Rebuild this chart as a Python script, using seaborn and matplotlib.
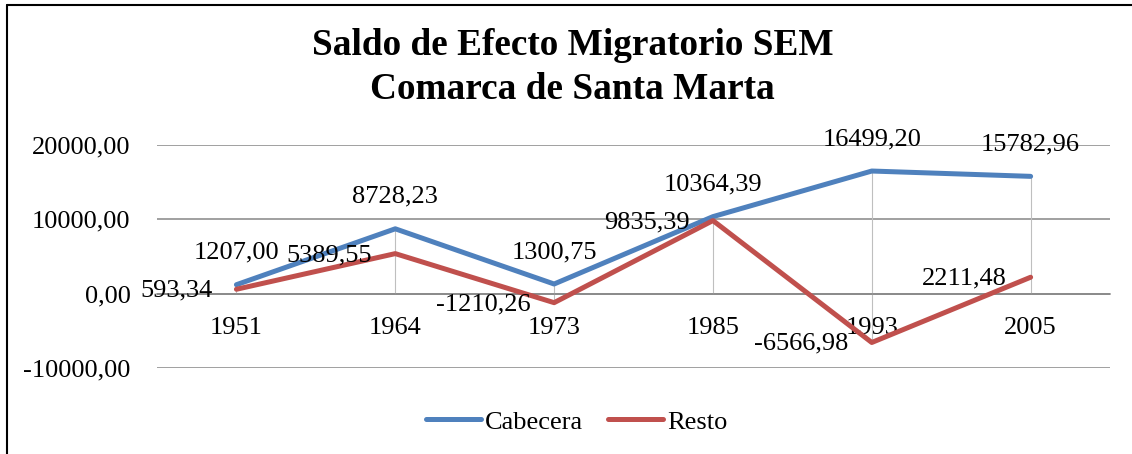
import numpy as np
import pandas as pd
import seaborn as sns
import matplotlib.pyplot as plt
from matplotlib.lines import Line2D
from matplotlib.ticker import FuncFormatter

years = ["1951", "1964", "1973", "1985", "1993", "2005"]
cabecera = [1207.00, 8728.23, 1300.75, 10364.39, 16499.20, 15782.96]
resto = [593.34, 5389.55, -1210.26, 9835.39, -6566.98, 2211.48]
series_names = ["Cabecera", "Resto"]
colors = ["#4F81BD", "#C0504D"]
y_ticks = [-10000, 0, 10000, 20000]


def fmt_es(v):
    return f"{v:.2f}".replace(".", ",")


def main():
    sns.set_theme(style="white")
    plt.rcParams["font.family"] = ["Liberation Serif", "DejaVu Serif"]
    plt.rcParams["text.color"] = "black"
    plt.rcParams["axes.labelcolor"] = "black"
    plt.rcParams["xtick.color"] = "black"
    plt.rcParams["ytick.color"] = "black"

    df = pd.DataFrame({
        "Año": years * 2,
        "Valor": cabecera + resto,
        "Serie": [series_names[0]] * len(years) + [series_names[1]] * len(years),
    })

    fig = plt.figure(figsize=(11.32, 4.54), dpi=100)
    ax = fig.add_axes([0.1387, 0.1894, 0.8419, 0.4912])

    # drop lines from axis to the extreme points of each category
    pos = np.arange(len(years))
    lo = np.minimum(0, np.minimum(cabecera, resto))
    hi = np.maximum(0, np.maximum(cabecera, resto))
    ax.vlines(pos, lo, hi, color="#BFBFBF", linewidth=0.8, zorder=1)

    sns.lineplot(data=df, x="Año", y="Valor", hue="Serie", palette=colors,
                 linewidth=3.6, solid_capstyle="round", ax=ax, legend=False,
                 zorder=3)

    fs = 19
    ax.set_xlim(-0.5, len(years) - 0.5)
    ax.set_ylim(-10000, 20000)
    ax.set_yticks(y_ticks)
    ax.yaxis.set_major_formatter(FuncFormatter(lambda v, p: fmt_es(v)))
    ax.grid(axis="y", color="#868686", linewidth=1.1)
    ax.set_axisbelow(True)
    for s in ["top", "right", "left"]:
        ax.spines[s].set_visible(False)
    ax.spines["bottom"].set_position(("data", 0))
    ax.spines["bottom"].set_color("#868686")
    ax.spines["bottom"].set_linewidth(1.1)
    ax.tick_params(axis="x", length=0, pad=16.5, labelsize=fs, labelcolor="black")
    ax.tick_params(axis="y", length=0, pad=19, labelsize=fs, labelcolor="black")
    ax.set_xlabel("")
    ax.set_ylabel("")

    # data labels
    for i, v in enumerate(cabecera):
        ax.annotate(fmt_es(v), (i, v), xytext=(0, 23), textcoords="offset points",
                    ha="center", va="center", fontsize=fs, color="black")
    for i, v in enumerate(resto):
        ax.annotate(fmt_es(v), (i, v), xytext=(-17, -1), textcoords="offset points",
                    ha="right", va="center", fontsize=fs, color="black")

    fig.text(0.506, 0.8789, "Saldo de Efecto Migratorio SEM", ha="center",
             va="baseline", fontsize=26.8, fontweight="bold", color="black")
    fig.text(0.506, 0.7819, "Comarca de Santa Marta", ha="center",
             va="baseline", fontsize=26.8, fontweight="bold", color="black")

    handles = [Line2D([0], [0], color=c, linewidth=3.6, solid_capstyle="round")
               for c in colors]
    fig.legend(handles, series_names, loc="center", bbox_to_anchor=(0.5097, 0.0705),
               ncol=2, frameon=False, fontsize=fs, handlelength=2.08,
               handletextpad=0.16, columnspacing=0.94, borderpad=0, borderaxespad=0,
               labelcolor="black")

    # outer frame (top and left edges visible)
    fig.add_artist(Line2D([0.0062, 1.0], [0.989, 0.989], color="black",
                          linewidth=1.5, transform=fig.transFigure))
    fig.add_artist(Line2D([0.0062, 0.0062], [0.0, 0.989], color="black",
                          linewidth=1.5, transform=fig.transFigure))

    fig.savefig("out.png", dpi=100)


if __name__ == "__main__":
    main()
